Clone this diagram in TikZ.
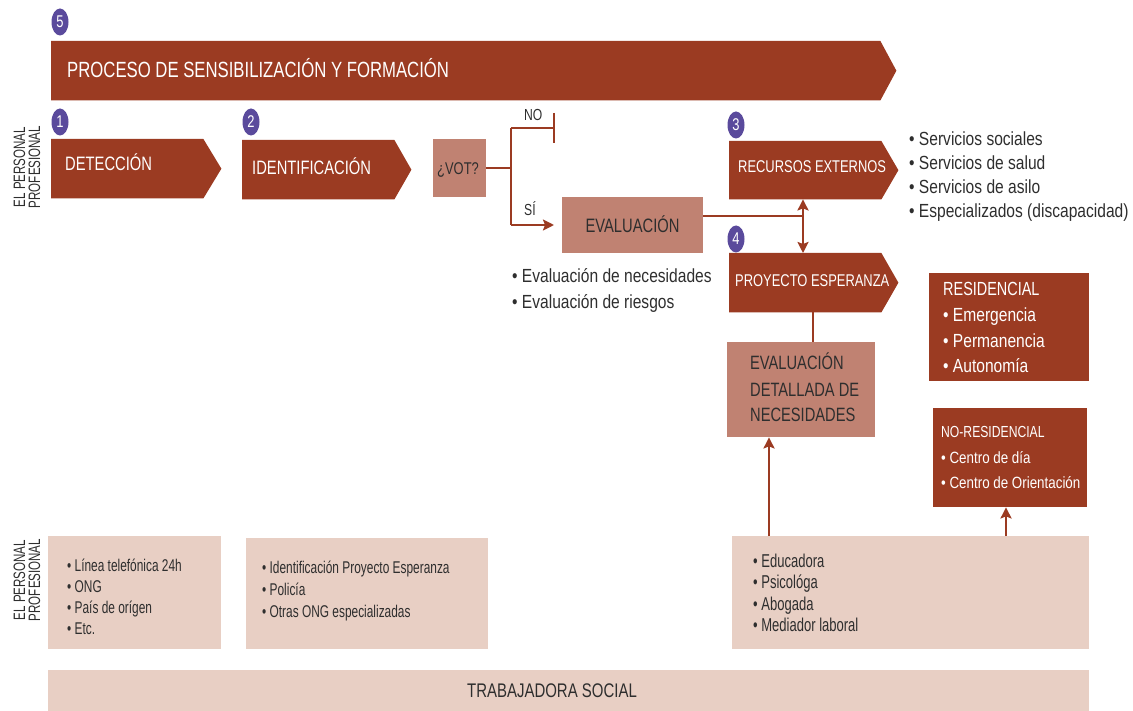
\documentclass[tikz,border=0pt]{standalone}
\usepackage{fontspec}
\setmainfont{Liberation Sans}
\newfontfamily\capsf[FakeStretch=0.76]{Liberation Sans}
\newfontfamily\bodyf[FakeStretch=0.82]{Liberation Sans}
\newfontfamily\smallf[FakeStretch=0.70]{Liberation Sans}
\usetikzlibrary{calc,arrows.meta,shapes.geometric}
\definecolor{rust}{HTML}{9B3B22}
\definecolor{midbox}{HTML}{C08272}
\definecolor{lightbox}{HTML}{E8CFC4}
\definecolor{badgec}{HTML}{5A4A9C}
\definecolor{darktext}{HTML}{2E2E2E}
\tikzset{
  chevbody/.style={draw=none, fill=none, inner sep=0pt, anchor=north west, rectangle},
  rustbox/.style={fill=rust, draw=none, inner sep=0pt, anchor=north west, rectangle},
  midbx/.style={fill=midbox, draw=none, inner sep=0pt, anchor=north west, rectangle},
  lightbx/.style={fill=lightbox, draw=none, inner sep=0pt, anchor=north west, rectangle},
  badge/.style={fill=badgec, ellipse, inner sep=0pt, minimum width=17pt, minimum height=27pt, text=white, font=\capsf\fontsize{17}{17}\selectfont},
  wtxt/.style={anchor=base west, inner sep=0pt, text=white},
  dtxt/.style={anchor=base west, inner sep=0pt, text=darktext},
  conn/.style={draw=rust, line width=2.8pt},
  tipa/.style={-{Stealth[length=11pt,width=11pt,inset=2pt]}},
  tipb/.style={{Stealth[length=11pt,width=11pt,inset=2pt]}-{Stealth[length=11pt,width=11pt,inset=2pt]}},
}
\newcommand{\chevfill}[2]{\fill[rust] (#1.north west) -- (#1.north east) -- ($(#1.east)+(#2,0)$) -- (#1.south east) -- (#1.south west) -- cycle;}
\begin{document}
\begin{tikzpicture}[x=1pt,y=-1pt]
\useasboundingbox (0,0) rectangle (1133,711);

% ---------- badges ----------
\node[badge] (b5) at (60,22) {5};
\node[badge] (b1) at (60,122) {1};
\node[badge] (b2) at (251,122) {2};
\node[badge] (b3) at (736,125) {3};
\node[badge] (b4) at (736,239) {4};

% ---------- banner ----------
\node[chevbody, minimum width=829pt, minimum height=59pt] (banner) at (51,41) {};
\chevfill{banner}{16}
\node[wtxt, font=\capsf\fontsize{22}{24}\selectfont] (bannertxt) at (67,78) {PROCESO DE SENSIBILIZACIÓN Y FORMACIÓN};

% ---------- vertical labels ----------
\node[rotate=90, align=center, inner sep=0pt, text=darktext, font=\smallf\fontsize{16.5}{15}\selectfont] (vlab1) at (27,167) {EL PERSONAL\\PROFESIONAL};
\node[rotate=90, align=center, inner sep=0pt, text=darktext, font=\smallf\fontsize{16.5}{15}\selectfont] (vlab2) at (27,580) {EL PERSONAL\\PROFESIONAL};

% ---------- detection ----------
\node[chevbody, minimum width=152pt, minimum height=59pt] (det) at (51,139) {};
\chevfill{det}{18}
\node[wtxt, font=\capsf\fontsize{19.4}{21}\selectfont] (dettxt) at (65,171) {DETECCIÓN};

% ---------- identification ----------
\node[chevbody, minimum width=152pt, minimum height=59pt] (ident) at (242,140) {};
\chevfill{ident}{17}
\node[wtxt, font=\capsf\fontsize{19.4}{21}\selectfont] (identtxt) at (252,175) {IDENTIFICACIÓN};

% ---------- VOT ----------
\node[midbx, minimum width=53pt, minimum height=58pt] (vot) at (433,139) {};
\node[dtxt, font=\capsf\fontsize{17}{19}\selectfont] (vottxt) at (437,175) {¿VOT?};

\coordinate (split) at (511,168);
\coordinate (noturn) at (511,128);
\coordinate (siturn) at (511,225);
\coordinate (noend) at (554,128);
\coordinate (siend) at (554,225);
\draw[conn] (vot.east |- split) -- (split);
\draw[conn] (noturn) -- (siturn);
\draw[conn] (noturn) -- (noend);
\draw[conn] ($(noend)+(0,-15)$) -- ($(noend)+(0,15)$);
\draw[conn, tipa] (siturn) -- (siend);
\node[dtxt, font=\capsf\fontsize{16}{18}\selectfont] (notxt) at (524,121) {NO};
\node[dtxt, font=\capsf\fontsize{16}{18}\selectfont] (sitxt) at (524,216) {SÍ};

% ---------- evaluation ----------
\node[midbx, minimum width=141pt, minimum height=56pt] (eval) at (562,197) {};
\node[anchor=base, inner sep=0pt, text=darktext, font=\capsf\fontsize{19.4}{21}\selectfont] (evaltxt) at (632.5,233) {EVALUACIÓN};
\node[dtxt, font=\bodyf\fontsize{19}{21}\selectfont] (evl1) at (512,283) {• Evaluación de necesidades};
\node[dtxt, font=\bodyf\fontsize{19}{21}\selectfont] (evl2) at (512,309) {• Evaluación de riesgos};

% ---------- recursos externos ----------
\node[chevbody, minimum width=152pt, minimum height=58pt] (recext) at (729,141) {};
\chevfill{recext}{17}
\node[wtxt, font=\capsf\fontsize{17}{19}\selectfont] (recexttxt) at (738,173) {RECURSOS EXTERNOS};

\node[dtxt, font=\bodyf\fontsize{19}{21}\selectfont] (rl1) at (909,146) {• Servicios sociales};
\node[dtxt, font=\bodyf\fontsize{19}{21}\selectfont] (rl2) at (909,170) {• Servicios de salud};
\node[dtxt, font=\bodyf\fontsize{19}{21}\selectfont] (rl3) at (909,194) {• Servicios de asilo};
\node[dtxt, font=\bodyf\fontsize{19}{21}\selectfont] (rl4) at (909,218) {• Especializados (discapacidad)};

% ---------- proyecto esperanza ----------
\node[chevbody, minimum width=152pt, minimum height=59pt] (proy) at (729,253) {};
\chevfill{proy}{17}
\node[wtxt, font=\capsf\fontsize{17}{19}\selectfont] (proytxt) at (735,287) {PROYECTO ESPERANZA};

\coordinate (j) at (803,216);
\draw[conn] (eval.east |- j) -- (j);
\draw[conn, tipb] (recext.south -| j) -- (proy.north -| j);

% ---------- evaluación detallada ----------
\node[midbx, minimum width=148pt, minimum height=95pt] (evdet) at (727,342) {};
\node[dtxt, font=\capsf\fontsize{19.3}{21}\selectfont] (evd1) at (750,370) {EVALUACIÓN};
\node[dtxt, font=\capsf\fontsize{19.3}{21}\selectfont] (evd2) at (750,396) {DETALLADA DE};
\node[dtxt, font=\capsf\fontsize{19.3}{21}\selectfont] (evd3) at (750,421) {NECESIDADES};
\coordinate (pl) at (813,0);
\draw[conn] (proy.south -| pl) -- (evdet.north -| pl);

% ---------- residencial ----------
\node[rustbox, minimum width=160pt, minimum height=108pt] (res) at (929,273) {};
\node[wtxt, font=\capsf\fontsize{19}{21}\selectfont] (rest) at (943,296) {RESIDENCIAL};
\node[wtxt, font=\bodyf\fontsize{19}{21}\selectfont] (res1) at (943,322) {• Emergencia};
\node[wtxt, font=\bodyf\fontsize{19}{21}\selectfont] (res2) at (943,348) {• Permanencia};
\node[wtxt, font=\bodyf\fontsize{19}{21}\selectfont] (res3) at (943,373) {• Autonomía};

% ---------- no residencial ----------
\node[rustbox, minimum width=154pt, minimum height=99pt] (nores) at (933,408) {};
\node[wtxt, font=\capsf\fontsize{16}{18}\selectfont] (norest) at (941,437) {NO-RESIDENCIAL};
\node[wtxt, font=\bodyf\fontsize{16.3}{18}\selectfont] (nores1) at (941,463) {• Centro de día};
\node[wtxt, font=\bodyf\fontsize{16.3}{18}\selectfont] (nores2) at (941,488) {• Centro de Orientación};

% ---------- bottom boxes ----------
\node[lightbx, minimum width=173pt, minimum height=113pt] (boxA) at (48,536) {};
\node[dtxt, font=\smallf\fontsize{17}{19}\selectfont] (a1) at (67,571) {• Línea telefónica 24h};
\node[dtxt, font=\smallf\fontsize{17}{19}\selectfont] (a2) at (67,592) {• ONG};
\node[dtxt, font=\smallf\fontsize{17}{19}\selectfont] (a3) at (67,613) {• País de orígen};
\node[dtxt, font=\smallf\fontsize{17}{19}\selectfont] (a4) at (67,634) {• Etc.};

\node[lightbx, minimum width=242pt, minimum height=111pt] (boxB) at (246,538) {};
\node[dtxt, font=\smallf\fontsize{17}{19}\selectfont] (b1t) at (262,573) {• Identificación Proyecto Esperanza};
\node[dtxt, font=\smallf\fontsize{17}{19}\selectfont] (b2t) at (262,595) {• Policía};
\node[dtxt, font=\smallf\fontsize{17}{19}\selectfont] (b3t) at (262,617) {• Otras ONG especializadas};

\node[lightbx, minimum width=357pt, minimum height=113pt] (boxC) at (732,536) {};
\node[dtxt, font=\smallf\fontsize{18.6}{20}\selectfont] (c1) at (753,567) {• Educadora};
\node[dtxt, font=\smallf\fontsize{18.6}{20}\selectfont] (c2) at (753,588) {• Psicológa};
\node[dtxt, font=\smallf\fontsize{18.6}{20}\selectfont] (c3) at (753,610) {• Abogada};
\node[dtxt, font=\smallf\fontsize{18.6}{20}\selectfont] (c4) at (753,631) {• Mediador laboral};

\node[lightbx, minimum width=1041pt, minimum height=41pt] (trab) at (48,670) {};
\node[anchor=base, inner sep=0pt, text=darktext, font=\capsf\fontsize{19.7}{21}\selectfont] (trabt) at (552,697) {TRABAJADORA SOCIAL};

\coordinate (al) at (769,0);
\coordinate (ar) at (1006,0);
\draw[conn, tipa] (boxC.north -| al) -- (evdet.south -| al);
\draw[conn, tipa] (boxC.north -| ar) -- (nores.south -| ar);
\end{tikzpicture}
\end{document}
